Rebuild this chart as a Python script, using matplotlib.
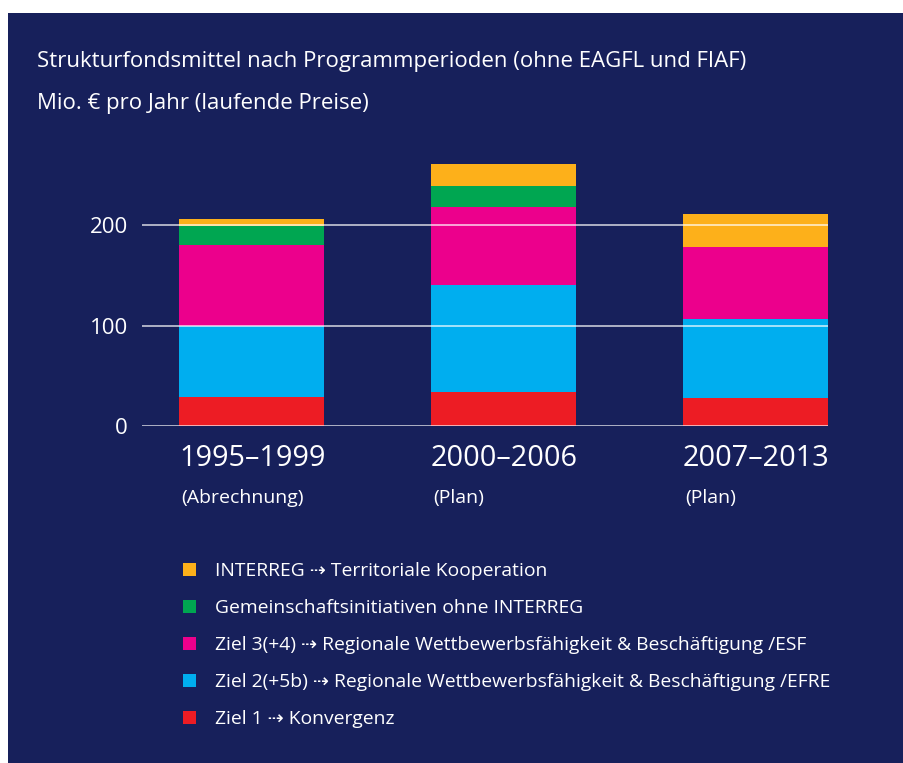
import numpy as np
import matplotlib.pyplot as plt
from matplotlib.patches import Rectangle

# Data (Mio. EUR pro Jahr)
periods = ['1995–1999', '2000–2006', '2007–2013']
period_notes = ['(Abrechnung)', '(Plan)', '(Plan)']
ziel1 = [29, 34, 28]
ziel2 = [71, 106, 78]
ziel3 = [80, 78, 72]
gemeinschaft = [19, 21, 0]
interreg = [7, 22, 33]

series = [ziel1, ziel2, ziel3, gemeinschaft, interreg]
labels = [
    'Ziel 1 \u21e2 Konvergenz',
    'Ziel 2(+5b) \u21e2 Regionale Wettbewerbsfähigkeit & Beschäftigung /EFRE',
    'Ziel 3(+4) \u21e2 Regionale Wettbewerbsfähigkeit & Beschäftigung /ESF',
    'Gemeinschaftsinitiativen ohne INTERREG',
    'INTERREG \u21e2 Territoriale Kooperation',
]
colors = ['#ED1C24', '#00AEEF', '#EC008C', '#00A651', '#FDB01A']
yticks = [0, 100, 200]

navy = '#17205B'
fonts = ['Open Sans', 'DejaVu Sans']
plt.rcParams['font.family'] = fonts

W, H = 904, 763
fig = plt.figure(figsize=(W / 100, H / 100), dpi=100, facecolor=navy)
# white page margin at top and left
fig.patches.append(Rectangle((0, 1 - 13 / H), 1, 13 / H,
                             transform=fig.transFigure, facecolor='white',
                             edgecolor='none', zorder=-5))
fig.patches.append(Rectangle((0, 0), 8 / W, 1,
                             transform=fig.transFigure, facecolor='white',
                             edgecolor='none', zorder=-5))

# axes: x 142..828 px, y 0 at 426 px, 1 unit ~ 1.005 px
ymax = 270
ax_bottom = (H - 426) / H
ax_height = ymax * 1.005 / H
ax = fig.add_axes([142 / W, ax_bottom, (828 - 142) / W, ax_height])
ax.set_facecolor('none')
ax.set_zorder(2)

x = np.arange(len(periods))
width = 0.575
bottom = np.zeros(len(periods))
handles = []
for vals, col, lab in zip(series, colors, labels):
    b = ax.bar(x, vals, width, bottom=bottom, color=col, label=lab, zorder=2)
    handles.append(b)
    bottom += np.array(vals)

ax.set_xlim(-0.4345, 2 + width / 2)
ax.set_ylim(0, ymax)
for t in yticks:
    ax.axhline(t, color='white', alpha=0.7, lw=1.3, zorder=3)
ax.set_yticks(yticks)
ax.set_yticklabels([str(t) for t in yticks], color='white', fontsize=16)
ax.tick_params(axis='y', length=0, pad=10)
ax.set_xticks([])
for s in ax.spines.values():
    s.set_visible(False)

for i, (p, n) in enumerate(zip(periods, period_notes)):
    ax.text(i - width / 2, -32, p, color='white', fontsize=20.8,
            ha='left', va='center', clip_on=False)
    ax.text(i - width / 2 + 0.008, -72, n, color='white', fontsize=14,
            ha='left', va='center', clip_on=False)

fig.text(37 / W, 1 - 61 / H,
         'Strukturfondsmittel nach Programmperioden (ohne EAGFL und FIAF)',
         color='white', fontsize=16, ha='left', va='center')
fig.text(37 / W, 1 - 103 / H, 'Mio. € pro Jahr (laufende Preise)',
         color='white', fontsize=16, ha='left', va='center')

leg = fig.legend(handles[::-1], labels[::-1], loc='upper left',
                 bbox_to_anchor=(183 / W, 1 - 562 / H), frameon=False,
                 fontsize=13.9, labelcolor='white', handlelength=0.68,
                 handleheight=0.68, handletextpad=0.98, labelspacing=0.99,
                 borderpad=0, borderaxespad=0)

fig.savefig('out.png', dpi=100, facecolor=navy)
